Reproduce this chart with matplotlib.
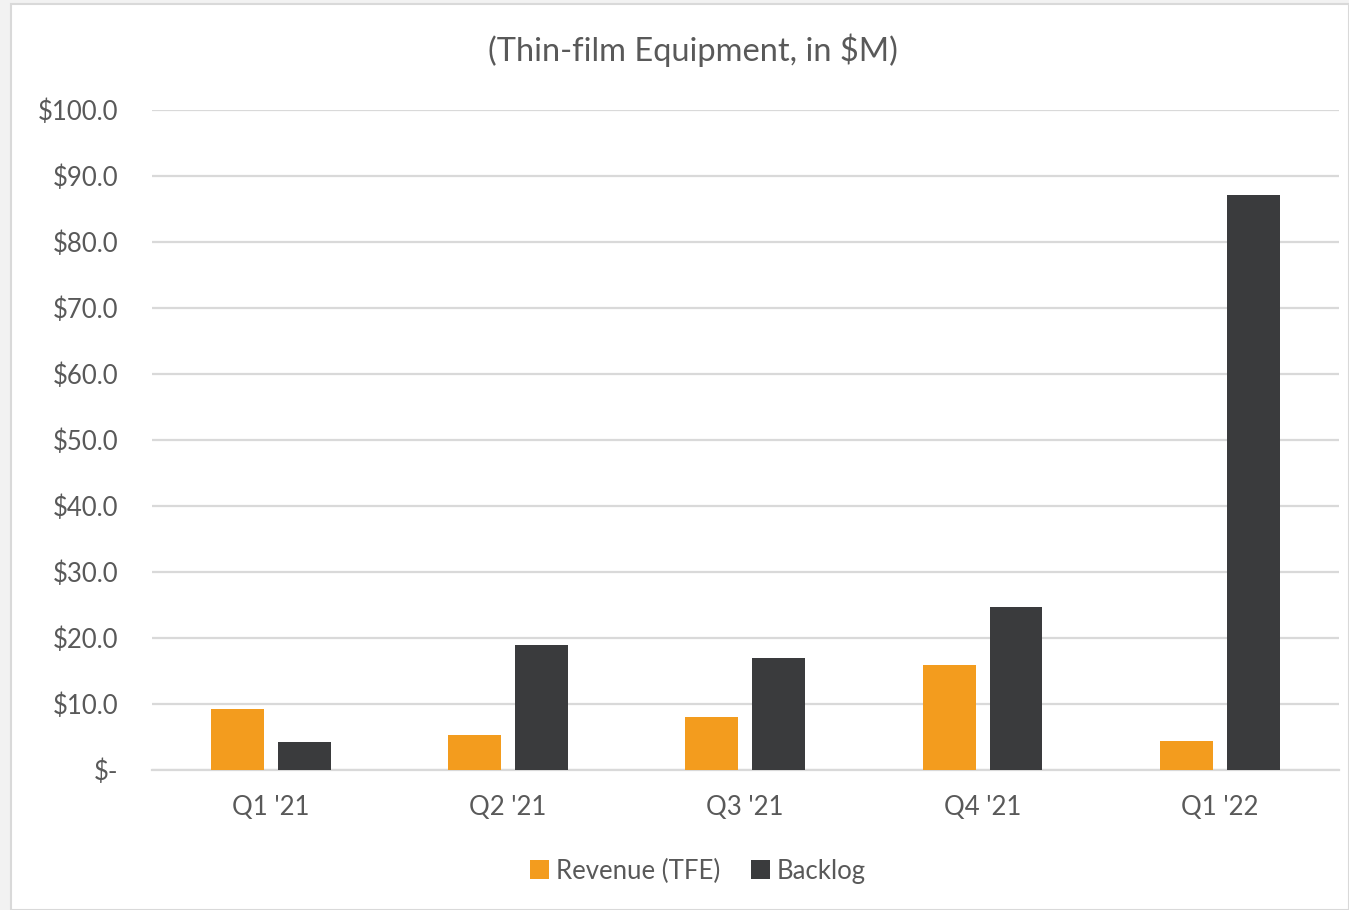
import numpy as np
import matplotlib
matplotlib.use("Agg")
import matplotlib.pyplot as plt
from matplotlib.patches import Rectangle

quarters = ["Q1 '21", "Q2 '21", "Q3 '21", "Q4 '21", "Q1 '22"]
revenue = [9.2, 5.3, 8.0, 15.9, 4.4]
backlog = [4.2, 18.9, 17.0, 24.7, 87.1]
yticks = [0, 10, 20, 30, 40, 50, 60, 70, 80, 90, 100]

orange = "#F39C1E"
dark = "#3A3B3D"
txt = "#595959"
grid = "#D9D9D9"

plt.rcParams["font.family"] = ["Lato", "DejaVu Sans"]

fig = plt.figure(figsize=(13.49, 9.10), dpi=100, facecolor="#F2F2F2")
# white chart area with thin border
fig.patches.append(Rectangle((11 / 1349, 0), 1 - 11 / 1349, 1 - 4 / 910,
                             transform=fig.transFigure, facecolor="white",
                             edgecolor=grid, linewidth=1.5, zorder=-5))

ax = fig.add_axes([152 / 1349, 1 - 770 / 910, (1338.5 - 152) / 1349, 660 / 910])
ax.set_zorder(2)
ax.set_facecolor("white")

x = np.arange(len(quarters))
w = 0.223
off = 0.141
ax.bar(x - off, revenue, w, color=orange, label="Revenue (TFE)", zorder=3)
ax.bar(x + off, backlog, w, color=dark, label="Backlog", zorder=3)

ax.set_xlim(-0.5, len(quarters) - 0.5)
ax.set_ylim(0, 100)
ax.set_yticks(yticks)
ax.set_yticklabels(["$-" if v == 0 else f"${v:.1f}" for v in yticks])
ax.set_xticks(x)
ax.set_xticklabels(quarters)

ax.grid(axis="y", color=grid, linewidth=1.6, zorder=0)
for s in ["top", "right", "left"]:
    ax.spines[s].set_visible(False)
ax.spines["bottom"].set_color(grid)
ax.spines["bottom"].set_linewidth(1.6)
ax.tick_params(axis="y", length=0, pad=24, labelsize=18.5, labelcolor=txt)
ax.tick_params(axis="x", length=0, pad=18, labelsize=18.5, labelcolor=txt)

fig.text(0.514, 1 - 50 / 910, "(Thin-film Equipment, in $M)", ha="center",
         va="center", fontsize=23.5, color=txt)

fig.legend(loc="center", bbox_to_anchor=(698 / 1349, 1 - 871 / 910), ncol=2,
           frameon=False, fontsize=18.5, labelcolor=txt, handlelength=0.75,
           handleheight=0.75, handletextpad=0.25, columnspacing=1.2)

fig.savefig("out.png", dpi=100, facecolor=fig.get_facecolor())
